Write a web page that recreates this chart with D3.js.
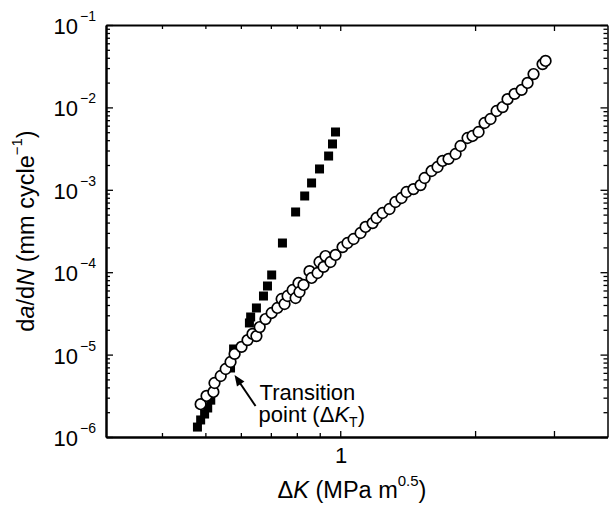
<!DOCTYPE html>
<html>
<head>
<meta charset="utf-8">
<script src="https://cdn.jsdelivr.net/npm/d3@7"></script>
<style>
body { margin: 0; background: #fff; }
svg text { font-family: "Liberation Sans", Arial, sans-serif; fill: #000; }
</style>
</head>
<body>
<svg id="chart" width="609" height="510"></svg>
<script>
// open circles: dK (MPa m^0.5) and da/dN (mm/cycle)
var openK = [0.488, 0.503, 0.521, 0.524, 0.541, 0.555, 0.569, 0.581, 0.602, 0.621,
    0.637, 0.650, 0.661, 0.681, 0.703, 0.724, 0.740, 0.751, 0.763, 0.783,
    0.795, 0.807, 0.811, 0.828, 0.854, 0.863, 0.890, 0.899, 0.918, 0.927,
    0.951, 0.976, 1.012, 1.038, 1.071, 1.110, 1.139, 1.181, 1.205, 1.243,
    1.288, 1.328, 1.370, 1.406, 1.457, 1.511, 1.543, 1.599, 1.649, 1.692,
    1.745, 1.809, 1.856, 1.924, 1.974, 2.036, 2.100, 2.165, 2.234, 2.304,
    2.363, 2.450, 2.540, 2.619, 2.701, 2.829, 2.873];
var openRate = [2.5e-6, 3.15e-6, 3.52e-6, 4.52e-6, 5.50e-6, 6.69e-6, 8.13e-6, 1.02e-5, 1.24e-5, 1.50e-5,
    1.78e-5, 1.68e-5, 2.16e-5, 2.70e-5, 3.20e-5, 3.68e-5, 4.73e-5, 4.11e-5, 5.14e-5, 6.08e-5,
    4.86e-5, 7.39e-5, 5.75e-5, 7.00e-5, 1.03e-4, 8.51e-5, 9.78e-5, 1.33e-4, 1.16e-4, 1.57e-4,
    1.33e-4, 1.62e-4, 2.02e-4, 2.26e-4, 2.53e-4, 2.99e-4, 3.54e-4, 3.95e-4, 4.55e-4, 5.23e-4,
    5.85e-4, 7.11e-4, 7.95e-4, 9.40e-4, 1.02e-3, 1.14e-3, 1.39e-3, 1.69e-3, 1.89e-3, 2.24e-3,
    2.37e-3, 2.72e-3, 3.40e-3, 4.25e-3, 4.50e-3, 5.03e-3, 6.47e-3, 7.23e-3, 9.04e-3, 1.01e-2,
    1.26e-2, 1.46e-2, 1.63e-2, 1.98e-2, 2.54e-2, 3.36e-2, 3.66e-2];

// filled squares
var solidK = [0.480, 0.488, 0.498, 0.506, 0.514, 0.569, 0.578, 0.627, 0.631, 0.650,
    0.674, 0.688, 0.703, 0.743, 0.795, 0.833, 0.863, 0.899, 0.942, 0.961, 0.976];
var solidRate = [1.32e-6, 1.61e-6, 1.90e-6, 2.25e-6, 2.80e-6, 6.88e-6, 1.17e-5, 2.42e-5, 2.86e-5, 3.68e-5,
    5.14e-5, 6.80e-5, 9.25e-5, 2.26e-4, 5.38e-4, 8.41e-4, 1.21e-3, 1.79e-3, 2.57e-3, 3.60e-3, 5.03e-3];

var yDecades = [1e-6, 1e-5, 1e-4, 1e-3, 1e-2, 1e-1];
var yExponents = ["\u22126", "\u22125", "\u22124", "\u22123", "\u22122", "\u22121"];
var xMajorTicks = [1, 2, 3];
var xMinorTicks = [0.4, 0.5, 0.6, 0.7, 0.8, 0.9];
var xTickLabels = [1];
var transitionIndex = 5; // square marked "Transition point"

var svg = d3.select("#chart");
var plotLeft = 106, plotRight = 607.5, plotTop = 25, plotBottom = 437;

var x = d3.scaleLog().domain([0.3, 3.95]).range([plotLeft, plotRight]);
var y = d3.scaleLog().domain([1e-6, 1e-1]).range([plotBottom, plotTop]);

var yMinor = y.ticks().filter(function(v) { return yDecades.indexOf(v) < 0 && v < 0.1; });

// bottom axis (ticks point inward)
var gb = svg.append("g").attr("transform", "translate(0," + plotBottom + ")");
gb.call(d3.axisBottom(x).tickValues(xMinorTicks).tickSize(-4).tickSizeOuter(0).tickFormat(""));
gb.append("g").call(d3.axisBottom(x).tickValues(xMajorTicks).tickSize(-6).tickSizeOuter(0).tickFormat(""))
    .select(".domain").remove();
// top axis
var gt = svg.append("g").attr("transform", "translate(0," + plotTop + ")");
gt.call(d3.axisTop(x).tickValues(xMinorTicks).tickSize(-4).tickSizeOuter(0).tickFormat(""));
gt.append("g").call(d3.axisTop(x).tickValues(xMajorTicks).tickSize(-6).tickSizeOuter(0).tickFormat(""))
    .select(".domain").remove();
// left axis
var gl = svg.append("g").attr("transform", "translate(" + plotLeft + ",0)");
gl.call(d3.axisLeft(y).tickValues(yMinor).tickSize(-4).tickSizeOuter(0).tickFormat(""));
gl.append("g").call(d3.axisLeft(y).tickValues(yDecades).tickSize(-7).tickSizeOuter(0).tickFormat(""))
    .select(".domain").remove();
// right axis
var gr = svg.append("g").attr("transform", "translate(" + plotRight + ",0)");
gr.call(d3.axisRight(y).tickValues(yMinor).tickSize(-4).tickSizeOuter(0).tickFormat(""));
gr.append("g").call(d3.axisRight(y).tickValues(yDecades).tickSize(-7).tickSizeOuter(0).tickFormat(""))
    .select(".domain").remove();

svg.selectAll(".tick line").attr("stroke", "#000").attr("stroke-width", 1.3);
gb.select(".domain").attr("stroke-width", 2.5);
gl.select(".domain").attr("stroke-width", 2.5);
gt.select(".domain").attr("stroke-width", 1.8);
gr.select(".domain").attr("stroke-width", 1.5);

// y tick labels 10^n
yDecades.forEach(function(v, i) {
    var yy = y(v);
    svg.append("text").attr("x", 78).attr("y", yy + 9)
        .attr("text-anchor", "end").style("font-size", "22px").text("10");
    svg.append("text").attr("x", 80).attr("y", yy - 4)
        .style("font-size", "14px").text(yExponents[i]);
});

// x tick labels
xTickLabels.forEach(function(v) {
    svg.append("text").attr("x", x(v) + 1).attr("y", 463)
        .attr("text-anchor", "middle").style("font-size", "22px").text(v);
});

// axis titles
var xt = svg.append("text").attr("x", 352).attr("y", 498)
    .attr("text-anchor", "middle").style("font-size", "23.5px");
xt.append("tspan").text("\u0394");
xt.append("tspan").style("font-style", "italic").text("K");
xt.append("tspan").text(" (MPa m");
xt.append("tspan").attr("dy", -12).style("font-size", "15px").text("0.5");
xt.append("tspan").attr("dy", 12).text(")");

var yt = svg.append("text").attr("transform", "translate(34,231) rotate(-90)")
    .attr("text-anchor", "middle").style("font-size", "23.5px");
yt.append("tspan").text("d");
yt.append("tspan").style("font-style", "italic").text("a");
yt.append("tspan").text("/d");
yt.append("tspan").style("font-style", "italic").text("N");
yt.append("tspan").text(" (mm cycle");
yt.append("tspan").attr("dy", -12).style("font-size", "15px").text("\u22121");
yt.append("tspan").attr("dy", 12).text(")");

// data
svg.append("g").selectAll("rect")
    .data(solidK)
    .enter()
    .append("rect")
        .attr("x", function(d) { return x(d) - 4.5; })
        .attr("y", function(d, i) { return y(solidRate[i]) - 4.5; })
        .attr("width", 9)
        .attr("height", 9)
        .style("fill", "#000");

svg.append("g").selectAll("circle")
    .data(openK)
    .enter()
    .append("circle")
        .attr("cx", function(d) { return x(d); })
        .attr("cy", function(d, i) { return y(openRate[i]); })
        .attr("r", 5.3)
        .style("fill", "#fff")
        .style("stroke", "#000")
        .style("stroke-width", 1.7);

// annotation
var tx = x(solidK[transitionIndex]), ty = y(solidRate[transitionIndex]);
var tipX = tx + 4, tipY = ty + 7, tailX = tx + 25, tailY = ty + 38;
var ang = Math.atan2(tipY - tailY, tipX - tailX);
svg.append("line")
    .attr("x1", tailX).attr("y1", tailY)
    .attr("x2", tipX - 6 * Math.cos(ang)).attr("y2", tipY - 6 * Math.sin(ang))
    .attr("stroke", "#000").attr("stroke-width", 2);
var hl = 11, hw = 4.5;
var bx = tipX - hl * Math.cos(ang), by = tipY - hl * Math.sin(ang);
svg.append("path")
    .attr("d", "M" + tipX + "," + tipY +
        "L" + (bx + hw * Math.sin(ang)) + "," + (by - hw * Math.cos(ang)) +
        "L" + (bx - hw * Math.sin(ang)) + "," + (by + hw * Math.cos(ang)) + "Z")
    .attr("fill", "#000");

svg.append("text").attr("x", tx + 29).attr("y", ty + 32)
    .style("font-size", "22px").text("Transition");
var pt = svg.append("text").attr("x", tx + 28).attr("y", ty + 54).style("font-size", "22px");
pt.append("tspan").text("point (\u0394");
pt.append("tspan").style("font-style", "italic").text("K");
pt.append("tspan").attr("dy", 5).style("font-size", "14px").text("T");
pt.append("tspan").attr("dy", -5).text(")");
</script>
</body>
</html>
